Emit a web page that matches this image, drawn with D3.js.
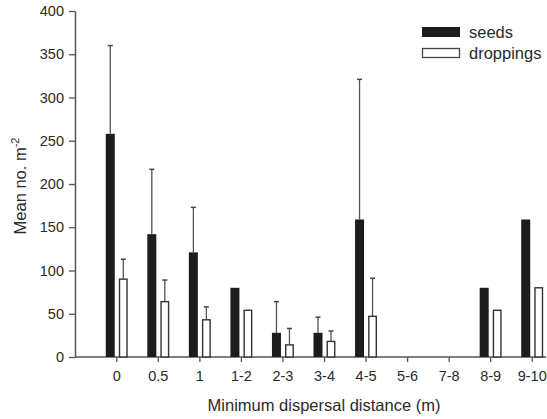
<!DOCTYPE html>
<html>
<head>
<meta charset="utf-8">
<script src="https://cdn.jsdelivr.net/npm/d3@7"></script>
<style>
body { margin: 0; background: #fff; }
svg text { font-family: "Liberation Sans", Arial, sans-serif; fill: #2a2a2a; }
</style>
</head>
<body>
<svg id="chart" width="547" height="419"></svg>
<script>
// values
var categories = ["0", "0.5", "1", "1-2", "2-3", "3-4", "4-5", "5-6", "7-8", "8-9", "9-10"];
var seeds      = [258, 142, 121, 80, 28, 28, 159, 0, 0, 80, 159];
var seedsErr   = [360, 217, 173, null, 64, 46, 321, null, null, null, null];
var droppings  = [90, 64, 43, 54, 14, 18, 47, 0, 0, 54, 80];
var dropErr    = [113, 89, 58, null, 33, 30, 91, null, null, null, null];
var yTicks     = [0, 50, 100, 150, 200, 250, 300, 350, 400];

var svg = d3.select("#chart");

var x = d3.scaleBand()
	.domain(categories)
	.range([96, 553]);
var y = d3.scaleLinear()
	.domain([0, 400])
	.range([357, 11]);

var barW = 9, gap = 2;

// y axis
var yAxis = svg.append("g")
	.attr("transform", "translate(75,0)")
	.call(d3.axisLeft(y).tickValues(yTicks).tickSize(6).tickSizeOuter(0).tickPadding(5));
yAxis.select(".domain").attr("stroke", "#555").attr("stroke-width", 1.5);
yAxis.selectAll(".tick line").attr("stroke", "#555").attr("stroke-width", 1.3);
yAxis.selectAll(".tick text").style("font-size", "14.5px").attr("fill", "#2a2a2a");

// x axis
var xAxis = svg.append("g")
	.attr("transform", "translate(0,357)")
	.call(d3.axisBottom(x).tickSize(5).tickSizeOuter(0).tickPadding(9));
xAxis.select(".domain").remove();
xAxis.selectAll(".tick line").attr("stroke", "#555").attr("stroke-width", 1.3);
xAxis.selectAll(".tick text").style("font-size", "14.5px").attr("fill", "#2a2a2a");
svg.append("line")
	.attr("x1", 75).attr("x2", 546)
	.attr("y1", y(0)).attr("y2", y(0))
	.attr("stroke", "#555").attr("stroke-width", 1.5);

function mid(c) { return x(c) + x.bandwidth() / 2; }

// error bars (drawn first so the bars sit over them)
function errBars(vals, errs, dx) {
	categories.forEach(function(c, i) {
		if (errs[i] == null) return;
		var cx = mid(c) + dx;
		svg.append("line")
			.attr("x1", cx).attr("x2", cx)
			.attr("y1", y(vals[i])).attr("y2", y(errs[i]))
			.attr("stroke", "#555").attr("stroke-width", 1.3);
		svg.append("line")
			.attr("x1", cx - 2.5).attr("x2", cx + 2.5)
			.attr("y1", y(errs[i])).attr("y2", y(errs[i]))
			.attr("stroke", "#444").attr("stroke-width", 1.5);
	});
}
errBars(seeds, seedsErr, -gap - barW / 2);
errBars(droppings, dropErr, gap + barW / 2);

svg.append("g").selectAll("rect")
	.data(seeds)
	.enter().append("rect")
	.attr("x", function(d, i) { return mid(categories[i]) - gap - barW; })
	.attr("y", function(d) { return y(d); })
	.attr("width", barW)
	.attr("height", function(d) { return y(0) - y(d); })
	.attr("fill", "#1c1c1c");

svg.append("g").selectAll("rect")
	.data(droppings)
	.enter().append("rect")
	.attr("x", function(d, i) { return mid(categories[i]) + gap + 0.75; })
	.attr("y", function(d) { return y(d); })
	.attr("width", barW - 1.5)
	.attr("height", function(d) { return y(0) - y(d); })
	.attr("fill", "#fff")
	.attr("stroke", "#333")
	.attr("stroke-width", 1.4);

// legend
var legend = svg.append("g");
legend.append("rect").attr("x", 422).attr("y", 27).attr("width", 38).attr("height", 10).attr("fill", "#1c1c1c");
legend.append("rect").attr("x", 422.5).attr("y", 48.5).attr("width", 37).attr("height", 9)
	.attr("fill", "#fff").attr("stroke", "#444").attr("stroke-width", 1.3);
legend.append("text").attr("x", 469).attr("y", 38).style("font-size", "16.5px").text("seeds");
legend.append("text").attr("x", 469).attr("y", 59).style("font-size", "16.5px").text("droppings");

// axis titles
svg.append("text")
	.attr("x", 324).attr("y", 411)
	.attr("text-anchor", "middle")
	.style("font-size", "16.5px")
	.text("Minimum dispersal distance (m)");

var yt = svg.append("text")
	.attr("transform", "translate(26,186) rotate(-90)")
	.attr("text-anchor", "middle")
	.style("font-size", "16.5px");
yt.append("tspan").text("Mean no. m");
yt.append("tspan").attr("dy", -7).style("font-size", "11px").text("-2");
</script>
</body>
</html>
